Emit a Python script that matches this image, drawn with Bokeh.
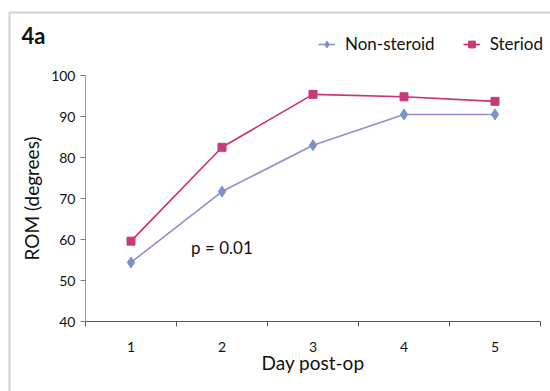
from bokeh.plotting import figure
from bokeh.models import (FixedTicker, Legend, LegendItem, Label, Range1d, BoxAnnotation)
from bokeh.embed import file_html
from bokeh.resources import INLINE

days = [1, 2, 3, 4, 5]
day_labels = ["1", "2", "3", "4", "5"]
non_steroid = [54.4, 71.7, 83.0, 90.5, 90.5]
steroid = [59.6, 82.5, 95.4, 94.8, 93.7]
y_ticks = [40, 50, 60, 70, 80, 90, 100]

FONT = "Lato"
W, H = 550, 391
# pixel layout of the axes box inside the canvas
AX_L, AX_R, AX_T, AX_B = 85, 540, 75, 321
X0, X1 = 0.5, 5.5
Y0, Y1 = 40, 100
xpp = (X1 - X0) / (AX_R - AX_L)
ypp = (Y1 - Y0) / (AX_B - AX_T)
x_range = Range1d(X0 - AX_L * xpp, X1 + (W - AX_R) * xpp)
y_range = Range1d(Y0 - (H - AX_B) * ypp, Y1 + AX_T * ypp)

p = figure(width=W, height=H, output_backend="svg", toolbar_location=None,
           x_range=x_range, y_range=y_range,
           min_border=0, min_border_left=0, min_border_right=0,
           min_border_top=0, min_border_bottom=0)
p.outline_line_color = None
p.xgrid.visible = False
p.ygrid.visible = False

# outer frame border
p.add_layout(BoxAnnotation(left=9, right=W + 20, top=H - 12, bottom=-20,
                           left_units="screen", right_units="screen",
                           top_units="screen", bottom_units="screen",
                           fill_alpha=0, line_color="#6a6a6a", line_width=2))

l_ns = p.line(days, non_steroid, line_color="#8e8fd2", line_width=1.6)
s_ns = p.scatter(days, non_steroid, marker="diamond", size=11, fill_color="#7d90c8", line_color="#7d90c8")
l_s = p.line(days, steroid, line_color="#cc2f78", line_width=1.6)
s_s = p.scatter(days, steroid, marker="square", size=8, fill_color="#c63a78", line_color="#c63a78")

# x axis
p.xaxis.fixed_location = Y0
p.xaxis.bounds = (X0, X1)
p.xaxis.ticker = FixedTicker(ticks=days, minor_ticks=[0.5, 1.5, 2.5, 3.5, 4.5, 5.5])
p.xaxis.major_label_overrides = {d: l for d, l in zip(days, day_labels)}
p.xaxis.major_tick_out = 0
p.xaxis.major_tick_in = 0
p.xaxis.minor_tick_out = 5
p.xaxis.minor_tick_in = 0
p.xaxis.minor_tick_line_color = "#555555"
p.xaxis.axis_line_color = "#555555"
p.xaxis.major_label_standoff = 15
p.xaxis.axis_label = "Day post-op"
p.xaxis.axis_label_standoff = -4

# y axis
p.yaxis.fixed_location = X0
p.yaxis.bounds = (Y0, Y1)
p.yaxis.ticker = FixedTicker(ticks=y_ticks, minor_ticks=[])
p.yaxis.major_tick_out = 5
p.yaxis.major_tick_in = 0
p.yaxis.major_tick_line_color = "#777777"
p.yaxis.axis_line_color = "#9a9a9a"
p.yaxis.major_label_standoff = 5
p.yaxis.axis_label = "ROM (degrees)"
p.yaxis.axis_label_standoff = 5

for ax in (p.xaxis, p.yaxis):
    ax.major_label_text_font = FONT
    ax.major_label_text_font_size = "14px"
    ax.major_label_text_color = "#111111"
    ax.axis_label_text_font = FONT
    ax.axis_label_text_font_size = "19px"
    ax.axis_label_text_font_style = "normal"
    ax.axis_label_text_color = "#111111"

# panel title
p.add_layout(Label(x=21, y=H - 35, x_units="screen", y_units="screen", text="4a",
                   text_font=FONT, text_font_style="bold", text_font_size="22px",
                   text_color="#111111", text_baseline="middle"))

# p-value annotation
p.add_layout(Label(x=1.66, y=58.0, text="p = 0.01", text_font=FONT,
                   text_font_size="17px", text_color="#111111", text_baseline="middle"))

legend = Legend(items=[LegendItem(label="Non-steroid", renderers=[l_ns, s_ns]),
                       LegendItem(label="Steriod", renderers=[l_s, s_s])],
                orientation="horizontal", location=(318, H - 54))
legend.border_line_color = None
legend.background_fill_alpha = 0
legend.padding = 0
legend.margin = 0
legend.spacing = 28
legend.glyph_width = 17
legend.glyph_height = 18
legend.label_standoff = 10
legend.label_text_font = FONT
legend.label_text_font_size = "17px"
legend.label_text_color = "#111111"
p.add_layout(legend, "center")

open("out.html", "w").write(file_html(p, INLINE))
